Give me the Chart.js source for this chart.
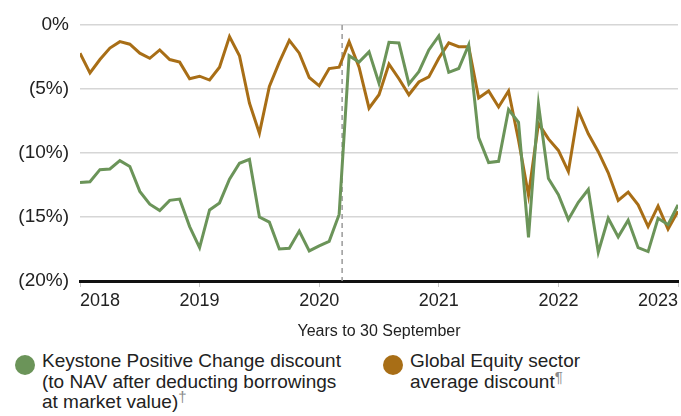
<!DOCTYPE html>
<html>
<script src="https://cdn.jsdelivr.net/npm/chart.js@4.4.0/dist/chart.umd.min.js"></script>
<style>
    body { margin: 0; background: #fff; font-family: "Liberation Sans", Arial, sans-serif; color: #222; }
    #wrap { position: relative; width: 681px; height: 416px; }
    #legend { position: absolute; top: 351px; left: 0; width: 681px; }
    .item { position: absolute; top: 0; font-size: 19px; line-height: 20.5px; }
    .dot { position: absolute; top: 4px; width: 20px; height: 20px; border-radius: 50%; }
    .txt { position: absolute; top: 0; white-space: nowrap; }
    sup { font-size: 15px; color: #8a8a8a; vertical-align: 6px; line-height: 0; }
</style>
<body>
<div id="wrap">
    <canvas id="discountChart" width="681" height="345"></canvas>
    <div id="legend"></div>
</div>

<script>

    // monthly discounts, % (negative = discount), first point sits on the 2018 tick
    let keystoneDiscount = [
        -12.3, -12.25, -11.3, -11.25, -10.6, -11.05, -13.0, -14.0, -14.5, -13.7,
        -13.6, -15.75, -17.4, -14.45, -13.9, -12.05, -10.8, -10.5, -15.0, -15.4,
        -17.5, -17.45, -16.1, -17.65, -17.25, -16.9, -14.8, -2.4, -2.9, -2.1,
        -4.55, -1.35, -1.4, -4.6, -3.65, -1.95, -0.85, -3.7, -3.4, -1.55,
        -8.8, -10.75, -10.65, -6.6, -7.6, -16.6, -6.2, -12.0, -13.25, -15.2,
        -13.85, -12.85, -17.75, -15.1, -16.55, -15.25, -17.4, -17.7, -15.1, -15.6,
        -14.05
    ];

    let sectorDiscount = [
        -2.2, -3.75, -2.7, -1.8, -1.3, -1.5, -2.2, -2.6, -1.95, -2.7,
        -2.9, -4.2, -4.0, -4.3, -3.3, -0.9, -2.4, -6.1, -8.45, -4.8,
        -2.9, -1.2, -2.2, -4.1, -4.75, -3.4, -3.3, -1.3, -3.3, -6.5,
        -5.45, -3.05, -4.2, -5.45, -4.45, -4.05, -2.6, -1.4, -1.7, -1.7,
        -5.7, -5.15, -6.4, -5.15, -9.0, -13.3, -7.7, -8.9, -9.8, -11.45,
        -6.7, -8.5, -9.9, -11.55, -13.7, -13.05, -14.05, -15.75, -14.15, -15.95,
        -14.55
    ];

    let yearLabels = ["2018", "2019", "2020", "2021", "2022", "2023"];
    let yTickLabels = ["0%", "(5%)", "(10%)", "(15%)", "(20%)"];

    // month index where the dashed marker line sits
    let dividerAt = 26.3;

    let keystoneLegend = ["Keystone Positive Change discount", "(to NAV after deducting borrowings", "at market value)"];
    let sectorLegend = ["Global Equity sector", "average discount"];

    let green = "#6b9459";
    let brown = "#a86e16";

    // dashed vertical line drawn through the x scale
    let dividerPlugin = {
        id: "divider",
        beforeDatasetsDraw(chart) {
            let ctx = chart.ctx;
            let x = chart.scales.x.getPixelForValue(dividerAt);
            ctx.save();
            ctx.strokeStyle = "#9a9a9a";
            ctx.lineWidth = 1.5;
            ctx.setLineDash([5, 4]);
            ctx.beginPath();
            ctx.moveTo(x, chart.chartArea.top);
            ctx.lineTo(x, chart.chartArea.bottom);
            ctx.stroke();
            ctx.restore();
        }
    };

    let chart = new Chart("discountChart", {
        type: "line",
        data: {
            datasets: [{
                label: keystoneLegend.join(" "),
                sup: "\u2020",
                legendLines: keystoneLegend,
                data: keystoneDiscount.map((v, i) => ({x: i, y: v})),
                borderColor: green,
                backgroundColor: green,
                borderWidth: 3,
                pointRadius: 0,
                fill: false
            }, {
                label: sectorLegend.join(" "),
                sup: "\u00b6",
                legendLines: sectorLegend,
                data: sectorDiscount.map((v, i) => ({x: i, y: v})),
                borderColor: brown,
                backgroundColor: brown,
                borderWidth: 3,
                pointRadius: 0,
                fill: false
            }]
        },
        options: {
            responsive: false,
            animation: false,
            layout: {padding: {top: 25, right: 0, bottom: 0, left: 0}},
            plugins: {
                legend: {display: false},
                tooltip: {enabled: false}
            },
            scales: {
                x: {
                    type: "linear",
                    min: 0,
                    max: 60,
                    afterFit: (s) => { s.height = 64; },
                    ticks: {
                        stepSize: 12,
                        align: "inner",
                        padding: 3,
                        color: "#222",
                        font: {family: "'Liberation Sans', Arial", size: 18},
                        callback: (v) => yearLabels[v / 12]
                    },
                    grid: {
                        drawOnChartArea: false,
                        drawTicks: true,
                        tickLength: 6,
                        color: "#c8c8c8"
                    },
                    border: {display: true, color: "#111", width: 3},
                    title: {
                        display: true,
                        text: "Years to 30 September",
                        color: "#222",
                        font: {family: "'Liberation Sans', Arial", size: 16},
                        padding: {top: 4, bottom: 4}
                    }
                },
                y: {
                    min: -20,
                    max: 0,
                    afterFit: (s) => { s.width = 80; },
                    ticks: {
                        stepSize: 5,
                        padding: 11,
                        color: "#222",
                        font: {family: "'Liberation Sans', Arial", size: 19},
                        callback: (v) => yTickLabels[-v / 5]
                    },
                    grid: {
                        drawTicks: false,
                        color: "#d6d6d6",
                        lineWidth: 1.5
                    },
                    border: {display: false}
                }
            }
        },
        plugins: [dividerPlugin]
    });

    // html legend built from the datasets (labels need to wrap on several lines)
    let legendBox = document.getElementById("legend");
    let lefts = [15, 383];
    chart.data.datasets.forEach((ds, i) => {
        let item = document.createElement("div");
        item.className = "item";
        item.style.left = lefts[i] + "px";
        let dot = document.createElement("div");
        dot.className = "dot";
        dot.style.left = "0px";
        dot.style.background = ds.borderColor;
        let txt = document.createElement("div");
        txt.className = "txt";
        txt.style.left = "27px";
        txt.innerHTML = ds.legendLines.join("<br>") + "<sup>" + ds.sup + "</sup>";
        item.appendChild(dot);
        item.appendChild(txt);
        legendBox.appendChild(item);
    });

</script>
</body>
</html>
